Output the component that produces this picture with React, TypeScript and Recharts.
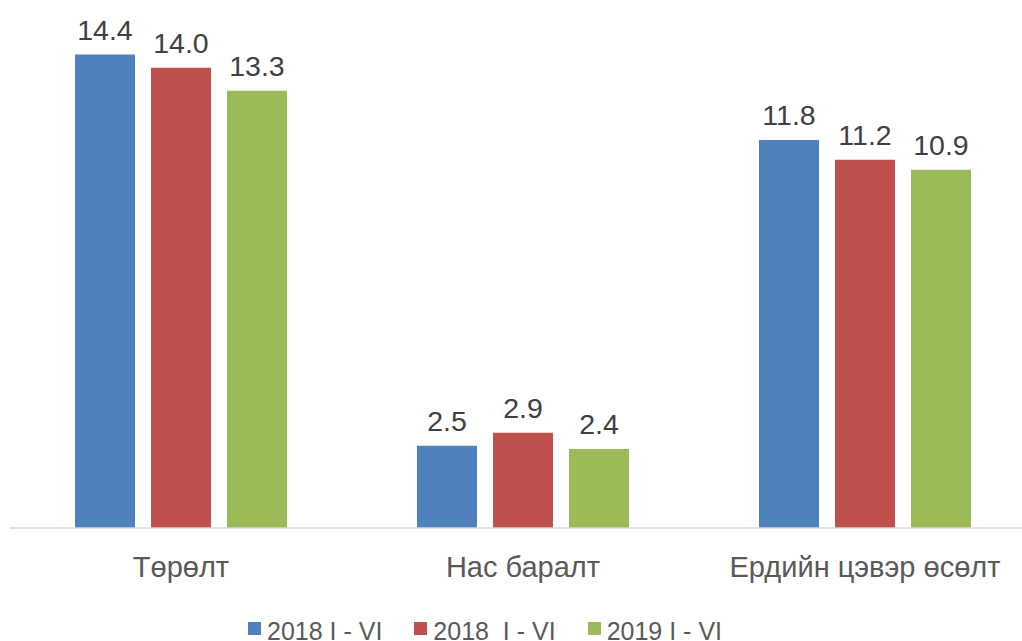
import { BarChart, Bar, XAxis, YAxis, LabelList } from 'recharts';

const categories = ['Төрөлт', 'Нас баралт', 'Ердийн цэвэр өсөлт'];
const series2018a = [14.4, 2.5, 11.8];
const series2018b = [14.0, 2.9, 11.2];
const series2019 = [13.3, 2.4, 10.9];
const seriesNames = ['2018 I - VI', '2018  I - VI', '2019 I - VI'];
const seriesColors = ['#4F81BD', '#C0504D', '#9BBB59'];

const data = categories.map((name, i) => ({
  name,
  a: series2018a[i],
  b: series2018b[i],
  c: series2019[i],
}));

const FONT = '"Liberation Sans", Arial, sans-serif';

export default function App() {
  const keys = ['a', 'b', 'c'];

  return (
    <div
      style={{
        position: 'absolute',
        left: 0,
        top: 0,
        width: 1022,
        height: 641,
        overflow: 'hidden',
        background: '#fff',
        fontFamily: FONT,
      }}
    >
      <BarChart
        width={1040}
        height={600}
        data={data}
        margin={{ top: 2, right: 4, left: 10, bottom: 12 }}
        barSize={60}
        barGap={16}
      >
        <XAxis
          dataKey="name"
          axisLine={{ stroke: '#D9D9D9', strokeWidth: 1.5 }}
          tickLine={false}
          tickMargin={22}
          height={60}
          tick={{ fontSize: 29, fill: '#595959', fontFamily: FONT }}
        />
        <YAxis hide domain={[0, 16]} />
        {keys.map((k, i) => (
          <Bar key={k} dataKey={k} name={seriesNames[i]} fill={seriesColors[i]} isAnimationActive={false}>
            <LabelList
              dataKey={k}
              position="top"
              offset={15}
              formatter={(v: number) => v.toFixed(1)}
              style={{ fontSize: 28.5, fill: '#404040', fontFamily: FONT }}
            />
          </Bar>
        ))}
      </BarChart>
      <div
        style={{
          position: 'absolute',
          left: 248,
          top: 619,
          display: 'flex',
          alignItems: 'flex-start',
          fontSize: 25,
          lineHeight: '25px',
          color: '#595959',
          whiteSpace: 'pre',
        }}
      >
        {seriesNames.map((n, i) => (
          <div key={n} style={{ display: 'flex', alignItems: 'flex-start', marginRight: 32 }}>
            <span
              style={{
                display: 'inline-block',
                width: 13,
                height: 13,
                marginTop: 3,
                marginRight: 6,
                background: seriesColors[i],
              }}
            />
            <span>{n}</span>
          </div>
        ))}
      </div>
    </div>
  );
}
